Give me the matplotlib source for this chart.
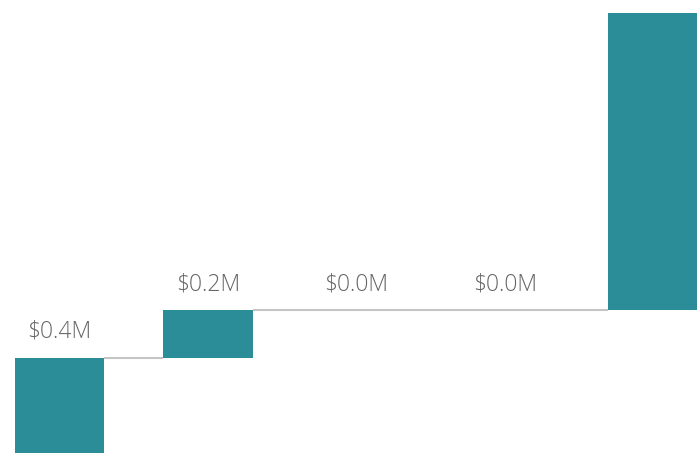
import matplotlib
matplotlib.use("Agg")
import matplotlib.pyplot as plt

# Waterfall steps (in $M)
categories = ["Step 1", "Step 2", "Step 3", "Step 4", "Step 5"]
changes = [0.4, 0.2, 0.0, 0.0, 1.25]
labels = ["$0.4M", "$0.2M", "$0.0M", "$0.0M", None]

bar_color = "#2b8d97"
line_color = "#c4c4c4"
text_color = "#666666"

fig = plt.figure(figsize=(6.97, 4.55), dpi=100)
ax = fig.add_axes([0, 0, 1, 1])

starts = []
level = 0.0
for c in changes:
    starts.append(level)
    level += c

x = list(range(len(categories)))
ax.bar(x, changes, bottom=starts, width=0.606, color=bar_color, linewidth=0, zorder=2)

# connectors between consecutive steps; zero steps draw as a flat line
half = 0.303
for i in range(len(changes) - 1):
    y = starts[i] + changes[i]
    ax.plot([i + half, i + 1 - half], [y, y],
            color=line_color, lw=1.5, zorder=1, solid_capstyle="butt")
    if changes[i + 1] == 0:
        ax.plot([i + 1 - half, i + 1 + half], [y, y], color=line_color, lw=1.5, zorder=1)

for i, lab in enumerate(labels):
    if lab is None:
        continue
    top = starts[i] + changes[i]
    ax.annotate(lab, (i, top), xytext=(0, 26), textcoords="offset pixels",
                ha="center", va="center", fontsize=16.5, color=text_color,
                family="Open Sans", fontweight="light")

ax.set_xlim(-0.4007, 4.293)
ax.set_ylim(-0.0084, 1.903)
ax.axis("off")

fig.savefig("out.png", dpi=100)
